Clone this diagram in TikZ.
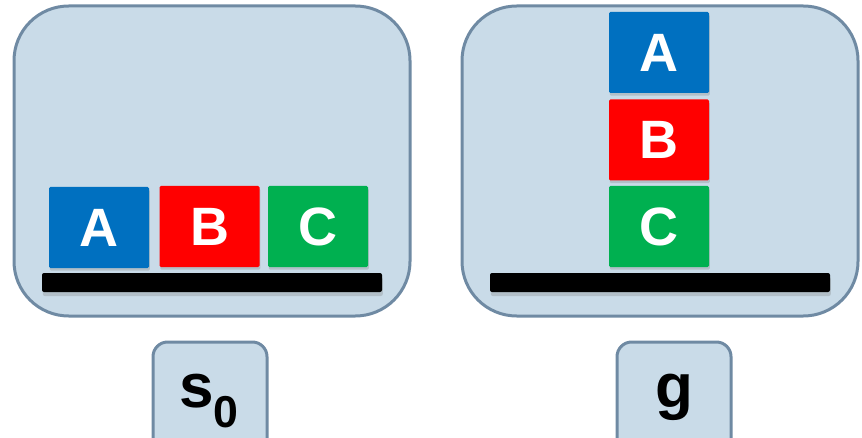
\documentclass[tikz,border=0pt]{standalone}
\usepackage{fontspec}
\setmainfont{Liberation Sans}
\usetikzlibrary{shadows}

\definecolor{panelfill}{RGB}{201,219,232}
\definecolor{paneldraw}{RGB}{111,138,163}
\definecolor{blockblue}{RGB}{0,112,192}
\definecolor{blockred}{RGB}{255,0,0}
\definecolor{blockgreen}{RGB}{0,176,80}

\tikzset{every picture/.style={line width=0.75pt}}
\tikzset{
  panel/.style={draw=paneldraw, fill=panelfill, line width=2.25pt, rounded corners=41pt},
  tagbox/.style={draw=paneldraw, fill=panelfill, line width=2.25pt, rounded corners=11pt},
  block/.style={minimum width=75pt, minimum height=60.75pt, inner sep=0pt, rounded corners=1pt,
    text=white, font=\fontsize{40.5}{40.5}\selectfont\bfseries,
    drop shadow={shadow xshift=0.6pt, shadow yshift=-2pt, opacity=0.3}},
  shelf/.style={fill=black, rounded corners=1.5pt,
    drop shadow={shadow xshift=0.6pt, shadow yshift=-3pt, opacity=0.3}},
  tagtext/.style={anchor=base, inner sep=0pt, font=\fontsize{46.5}{46.5}\selectfont\bfseries}
}

\begin{document}
\begin{tikzpicture}[x=0.75pt,y=0.75pt,yscale=-1,xscale=1]
\useasboundingbox (0,0) rectangle (862,438);
\clip (0,0) rectangle (862,438);

%Rounded Rect: start state
\draw [panel] (14,6) rectangle (410,316);
%Rounded Rect: goal state
\draw [panel] (462,6) rectangle (858,316);

%Table tops
\path [shelf] (42,273) rectangle (382,292);
\path [shelf] (490,273) rectangle (830,292);

% Blocks in s0
\node [block, fill=blockblue]  (sA) at (99,227.5) {A};
\node [block, fill=blockred]   (sB) at (209.5,226.5) {B};
\node [block, fill=blockgreen] (sC) at (318,226.5) {C};

% Blocks in g
\node [block, fill=blockblue]  (gA) at (659,52.5) {A};
\node [block, fill=blockred]   (gB) at (659,140) {B};
\node [block, fill=blockgreen] (gC) at (659,226.5) {C};

%Tags
\draw [tagbox] (153,342) rectangle (267,470);
\draw [tagbox] (617,342) rectangle (731,470);

% Text Node
\node [tagtext] (s0) at (209,407) {s\raisebox{-15pt}{\fontsize{33.5}{33.5}\selectfont 0}};
% Text Node
\node [tagtext] (g) at (674,407) {g};

\end{tikzpicture}
\end{document}
